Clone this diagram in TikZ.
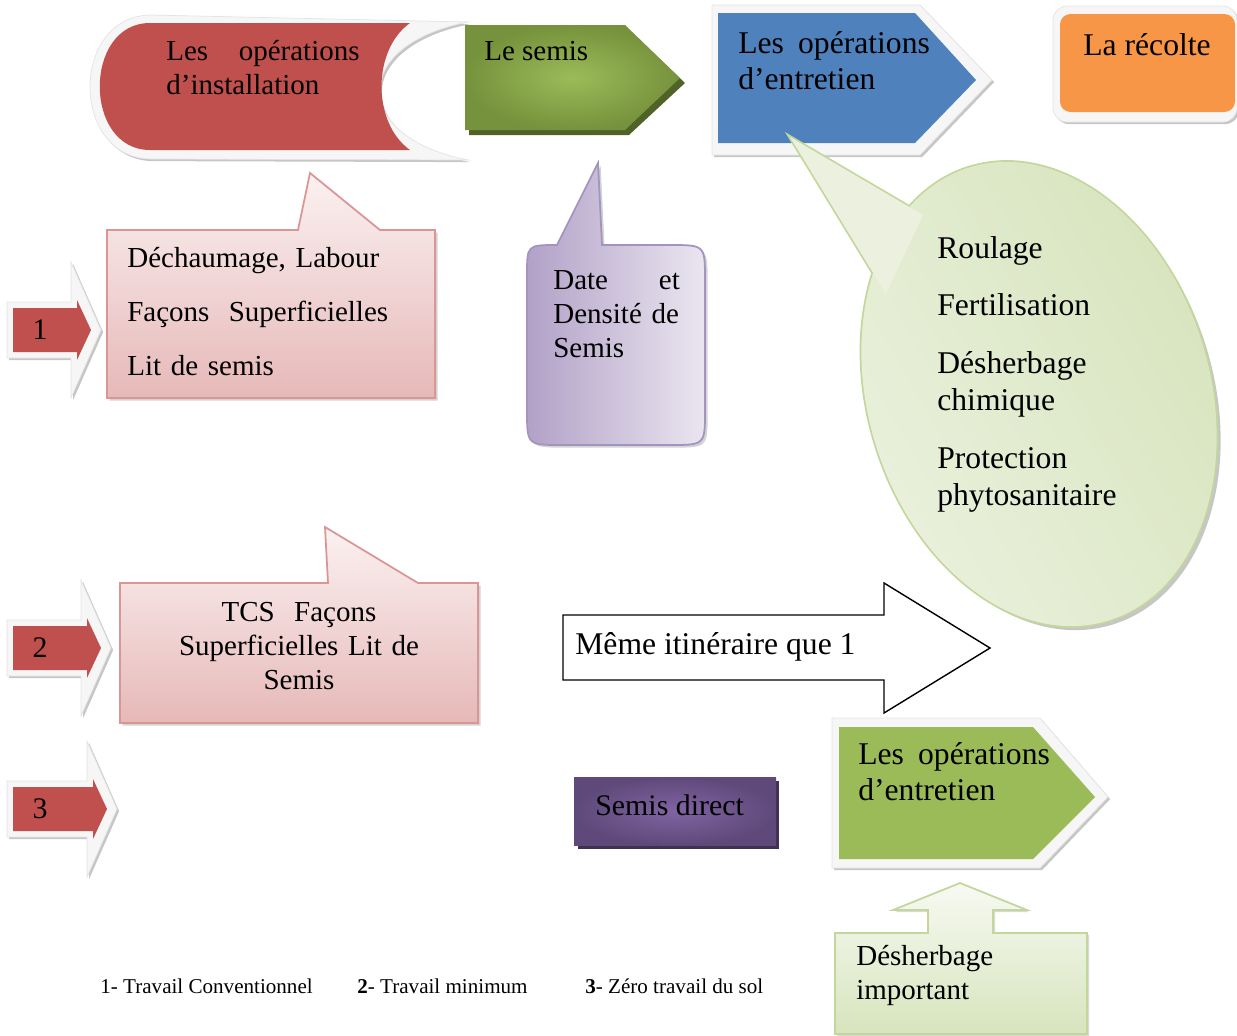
\documentclass[tikz,border=0pt]{standalone}
\usepackage{fontspec}
\setmainfont{Liberation Serif}
\usetikzlibrary{shadows}

\definecolor{instred}{HTML}{C0504D}
\definecolor{semisgreen}{HTML}{9BBB59}
\definecolor{semisdark}{HTML}{76923C}
\definecolor{semisshadow}{HTML}{4F6228}
\definecolor{entrblue}{HTML}{4F81BD}
\definecolor{recorange}{HTML}{F79646}
\definecolor{pinkline}{HTML}{D99694}
\definecolor{pinklow}{HTML}{E6B9B8}
\definecolor{pinktop}{HTML}{FBF1F1}
\definecolor{lilaclow}{HTML}{B2A1C7}
\definecolor{lilactop}{HTML}{EAE6F0}
\definecolor{lilacline}{HTML}{A393C0}
\definecolor{leafline}{HTML}{C3D69B}
\definecolor{leaflow}{HTML}{D7E4BD}
\definecolor{leaftop}{HTML}{EBF1DE}
\definecolor{plum}{HTML}{5F497A}
\definecolor{plumlight}{HTML}{8064A2}
\definecolor{plumshadow}{HTML}{3F3151}

\begin{document}
\begin{tikzpicture}[x=0.02cm,y=-0.02cm,
  txt/.style={inner sep=0pt,anchor=base west,align=left,font=\fontsize{16.5}{19.5}\selectfont},
  big/.style={font=\fontsize{18}{21}\selectfont},
  band/.style={fill=gray!7,draw=gray!22,drop shadow={shadow xshift=1.2pt,shadow yshift=-1.2pt,opacity=.45}},
  bubble/.style={draw=pinkline,line width=1pt,top color=pinktop,bottom color=pinklow,drop shadow={shadow xshift=1.5pt,shadow yshift=-1.5pt,opacity=.35}}]
\useasboundingbox (0,0) rectangle (1237,1035);

% top row
\path[band] (150,15) -- (468,22) .. controls (350,45) and (350,137) .. (468,160) -- (150,159) .. controls (70,157) and (70,17) .. (150,15) -- cycle;
\fill[instred] (150,23) -- (410,23) .. controls (372,50) and (372,123) .. (410,150) -- (150,150) .. controls (83,150) and (83,23) .. (150,23) -- cycle;
\node[txt,text width=110pt] (install) at (166,60) {Les\hfill opérations\\d’installation};

\fill[semisshadow] (469,30) -- (629,30) -- (685,83) -- (629,135) -- (469,135) -- cycle;
\shade[inner color=semisgreen,outer color=semisdark] (465,25) -- (625,25) -- (680,78) -- (625,130) -- (465,130) -- cycle;
\node[txt] (semis) at (484,60) {Le semis};

\path[band] (712,5) -- (920,5) -- (992,80) -- (920,155) -- (712,155) -- cycle;
\fill[entrblue] (718,13) -- (915,13) -- (976,80) -- (915,143) -- (718,143) -- cycle;
\node[txt,big,text width=109pt] (entretien) at (738,53) {Les\hfill opérations\\d’entretien};

\path[band,rounded corners=8pt] (1053,6) rectangle (1237,122);
\fill[recorange,rounded corners=6pt] (1060,14) rectangle (1235,112);
\node[txt,big] (recolte) at (1083,55) {La récolte};

% callouts
\path[bubble] (107,230) -- (298,230) -- (310,173) -- (380,230) -- (435,230) -- (435,398) -- (107,398) -- cycle;
\node[txt,text width=200pt] (labour) at (127,267) {Déchaumage, Labour\\[11.5pt]Façons\ \ Superficielles\\[11.5pt]Lit de semis};

\path[draw=lilacline,line width=1pt,left color=lilaclow,right color=lilactop,drop shadow={shadow xshift=1.5pt,shadow yshift=-1.5pt,opacity=.35}] (557,245) -- (598,163) -- (602,245) -- (670,245) .. controls (705,245) .. (705,280) -- (705,410) .. controls (705,445) .. (670,445) -- (562,445) .. controls (527,445) .. (527,410) -- (527,275) .. controls (527,245) .. (557,245) -- cycle;
\node[txt,text width=72pt] (date) at (553,289) {Date\hfill et\\Densité de\\Semis};

\begin{scope}[shift={(1043,398)},rotate=17]
  \fill[gray!45] (0,0) ellipse [x radius=171,y radius=237];
\end{scope}
\draw[leafline,line width=2pt] (790,137) -- (923,215) -- (886,294) -- cycle;
\begin{scope}[shift={(1039,394)},rotate=17]
  \draw[leafline,line width=2pt] (0,0) ellipse [x radius=171,y radius=237];
  \shade[top color=leaflow,bottom color=leaftop,shading angle=-60] (0,0) ellipse [x radius=171,y radius=237];
\end{scope}
\fill[leaftop] (790,137) -- (923,215) -- (886,294) -- cycle;
\node[txt,big,text width=120pt] (soins) at (937,258) {Roulage\\[12pt]Fertilisation\\[12pt]Désherbage\\chimique\\[12pt]Protection\\phytosanitaire};

\path[bubble] (120,583) -- (328,583) -- (325,527) -- (418,583) -- (478,583) -- (478,723) -- (120,723) -- cycle;
\node[txt,anchor=base,align=center,text width=200pt] (tcs) at (299,621) {TCS\ \ Façons\\Superficielles Lit de\\Semis};

% middle and bottom
\draw[fill=white,line width=.8pt] (563,615) -- (884,615) -- (884,583) -- (990,648) -- (884,713) -- (884,680) -- (563,680) -- cycle;
\node[txt,big] (meme) at (575,654) {Même itinéraire que 1};

\fill[plumshadow] (578,781) rectangle (779,849);
\shade[inner color=plumlight,outer color=plum] (574,777) rectangle (776,845);
\node[txt,font=\fontsize{17}{20}\selectfont] (direct) at (595,815) {Semis direct};

\path[band] (832,718) -- (1040,718) -- (1108,797) -- (1040,868) -- (832,868) -- cycle;
\fill[semisgreen] (839,727) -- (1033,727) -- (1095,797) -- (1033,859) -- (839,859) -- cycle;
\node[txt,big,text width=109pt] (entretien2) at (858,764) {Les\hfill opérations\\d’entretien};

\path[draw=leafline,line width=1pt,top color=leaftop!40!white,bottom color=leaflow,drop shadow={shadow xshift=1.2pt,shadow yshift=-1.2pt,opacity=.3}] (835,933) -- (928,933) -- (928,910) -- (893,910) -- (960,883) -- (1027,910) -- (993,910) -- (993,933) -- (1087,933) -- (1087,1034) -- (835,1034) -- cycle;
\node[txt,text width=120pt] (desherbage) at (856,965) {Désherbage\\important};

% numbered arrows
\foreach \n/\yc/\xe in {1/330/77,2/648/87,3/809/93}{
  \path[band] (7,\yc-28) -- (\xe-6,\yc-28) -- (\xe-6,\yc-68) -- (\xe+24,\yc) -- (\xe-6,\yc+68) -- (\xe-6,\yc+28) -- (7,\yc+28) -- cycle;
  \fill[instred] (13,\yc-22) -- (\xe,\yc-22) -- (\xe,\yc-30) -- (\xe+14,\yc) -- (\xe,\yc+30) -- (\xe,\yc+22) -- (13,\yc+22) -- cycle;
  \node[font=\fontsize{17}{20}\selectfont,inner sep=0pt] (num\n) at (40,\yc) {\n};
}

% legend
\node[txt,font=\fontsize{12}{14}\selectfont] (leg1) at (100,993) {1- Travail Conventionnel};
\node[txt,font=\fontsize{12}{14}\selectfont] (leg2) at (357,993) {\textbf{2}- Travail minimum};
\node[txt,font=\fontsize{12}{14}\selectfont] (leg3) at (585,993) {\textbf{3}- Zéro travail du sol};
\end{tikzpicture}
\end{document}
